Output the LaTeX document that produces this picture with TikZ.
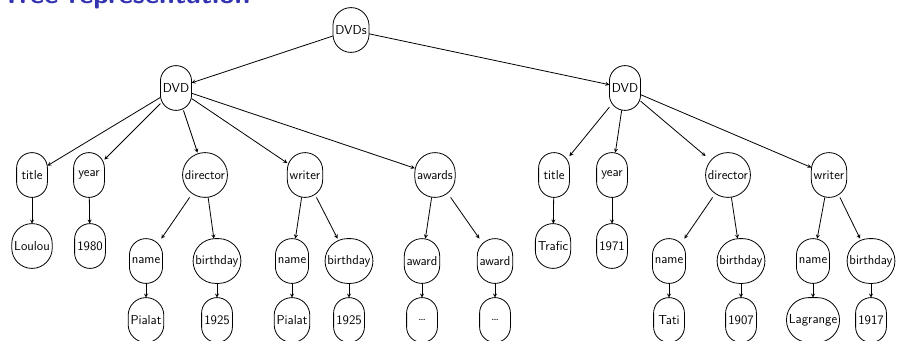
\documentclass[tikz,border=0pt]{standalone}
\usepackage{tikz}
\usetikzlibrary{calc}
\definecolor{slideblue}{rgb}{0.2,0.2,0.7}

\begin{document}
\begin{tikzpicture}[>=stealth,x=1pt,y=-1pt,line width=0.8pt,
    elem/.style={minimum width=30pt,minimum height=44pt,
        inner sep=2pt,font=\sffamily\fontsize{13}{15}\selectfont}]
    \useasboundingbox (0,0) rectangle (899,340);
    \clip (0,0) rectangle (899,340);
    \node[anchor=base west,inner sep=0pt,text=slideblue,
        font=\sffamily\bfseries\fontsize{28}{32}\selectfont] (title) at (1,3) {Tree representation};
    % root and the two dvds
    \node[elem] (dvds) at (351,30) {DVDs};
    \node[elem] (dvdA) at (176,88) {DVD};
    \node[elem] (dvdB) at (625,88) {DVD};
    % fields of each dvd
    \foreach \n/\x/\t in {titleA/32/title, yearA/89/year, dirA/205/director,
        wriA/305/writer, awdA/435/awards, titleB/554/title, yearB/612/year,
        dirB/728/director, wriB/829/writer}
        \node[elem] (\n) at (\x,175) {\t};
    \foreach \n/\x/\t in {titleAv/32/Loulou, yearAv/90/1980, titleBv/553/Trafic, yearBv/612/1971}
        \node[elem] (\n) at (\x,246) {\t};
    % sub-fields
    \foreach \n/\x/\t in {dirA1/146/name, dirA2/217/birthday, wriA1/292/name,
        wriA2/349/birthday, awdA1/422/award, awdA2/495/award, dirB1/669/name,
        dirB2/741/birthday, wriB1/813/name, wriB2/871/birthday}
        \node[elem] (\n) at (\x,261) {\t};
    \foreach \n/\x/\t in {dirA1v/146/Pialat, dirA2v/217/1925, wriA1v/292/Pialat,
        wriA2v/349/1925, awdA1v/422/\dots, awdA2v/495/\dots, dirB1v/669/Tati,
        dirB2v/741/1907, wriB1v/813/Lagrange, wriB2v/871/1917}
        \node[elem] (\n) at (\x,320) {\t};
    % outlines: corners as round as the shorter side allows
    \foreach \k in {dvds,dvdA,dvdB,titleA,yearA,dirA,wriA,awdA,titleB,yearB,dirB,wriB,
        titleAv,yearAv,titleBv,yearBv,dirA1,dirA2,wriA1,wriA2,awdA1,awdA2,dirB1,dirB2,
        wriB1,wriB2,dirA1v,dirA2v,wriA1v,wriA2v,awdA1v,awdA2v,dirB1v,dirB2v,wriB1v,wriB2v}
        \draw let \p1=($(\k.north east)-(\k.south west)$),
            \n1={0.5*min(\x1,\y1)-0.01pt} in
            [rounded corners=\n1] (\k.south west) rectangle (\k.north east);
    % edges
    \foreach \p/\cs in {dvds/{dvdA,dvdB},
        dvdA/{titleA,yearA,dirA,wriA,awdA},
        dvdB/{titleB,yearB,dirB,wriB},
        titleA/{titleAv}, yearA/{yearAv}, titleB/{titleBv}, yearB/{yearBv},
        dirA/{dirA1,dirA2}, wriA/{wriA1,wriA2}, awdA/{awdA1,awdA2},
        dirB/{dirB1,dirB2}, wriB/{wriB1,wriB2}}
        \foreach \c in \cs
            \draw[->] (\p) -- (\c);
    \foreach \c in {dirA1,dirA2,wriA1,wriA2,awdA1,awdA2,dirB1,dirB2,wriB1,wriB2}
        \draw[->] (\c) -- (\c v);
\end{tikzpicture}
\end{document}
